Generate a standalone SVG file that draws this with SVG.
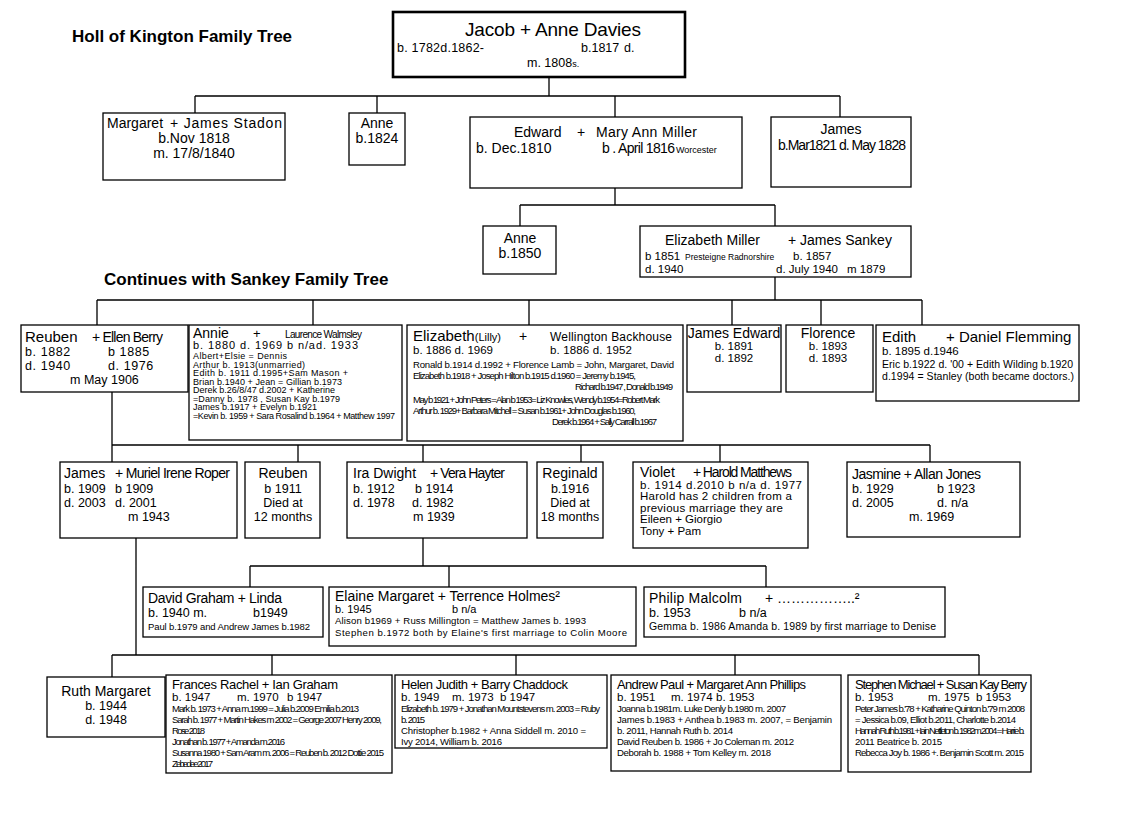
<svg xmlns="http://www.w3.org/2000/svg" width="1141" height="831" viewBox="0 0 1141 831">
<style>
text{font-family:"Liberation Sans",Arial,sans-serif;fill:#000}
.b{fill:#fff;stroke:#000;stroke-width:1.3}
.c{fill:none;stroke:#000;stroke-width:1.3}
.h{font-weight:bold;font-size:17px}
.n{font-size:14px}
.t{font-size:13px}
.d{font-size:12.5px}
.e{font-size:11.5px}
.s{font-size:9.6px}
.a{font-size:9px}
.m{text-anchor:middle}
</style>
<rect width="1141" height="831" fill="#fff"/>
<text class="h" x="72" y="42">Holl of Kington Family Tree</text>
<text class="h" x="104" y="285">Continues with Sankey Family Tree</text>
<g id="connectors" class="c">
<path d="M549,77V96M195,96H840M195,96V113M377,96V113M615,96V117M840,96V117"/>
<path d="M615,188V205M520,205H775M520,205V226M775,205V226"/>
<path d="M775,277V300M97,300H922M97,300V325M313,300V325M529,300V325M732,300V325M821,300V325M922,300V325"/>
<path d="M112,392V445M112,445H930M112,445V462M298,445V462M423,445V462M581,445V462M720,445V462M930,445V462"/>
<path d="M136,538V655M423,538V566M250,566H766M250,566V587M449,566V587M766,566V587"/>
<path d="M112,655H979M112,655V677M272,655V675M516,655V675M735,655V675M979,655V675"/>
</g>
<g id="jacob">
<rect x="393" y="12" width="292" height="65" fill="#fff" stroke="#000" stroke-width="2.6"/>
<text x="465" y="36" font-size="19" textLength="176">Jacob + Anne Davies</text>
<text class="d" x="397" y="52" textLength="87">b. 1782d.1862-</text>
<text class="d" x="581" y="52">b.1817</text><text class="d" x="624" y="52">d.</text>
<text class="d" x="527" y="67">m. 1808<tspan font-size="9">s.</tspan></text>
</g>
<g id="margaret">
<rect class="b" x="103" y="113" width="182" height="67"/>
<text class="n" x="107" y="128">Margaret</text><text class="n" x="170" y="128" textLength="112">+ James Stadon</text>
<text class="n m" x="194" y="143">b.Nov 1818</text>
<text class="n m" x="194" y="158">m. 17/8/1840</text>
</g>
<g id="anne1">
<rect class="b" x="349" y="113" width="56" height="52"/>
<text class="n m" x="377" y="128">Anne</text>
<text class="n m" x="377" y="143">b.1824</text>
</g>
<g id="edward">
<rect class="b" x="470" y="117" width="272" height="71"/>
<text class="n" x="514" y="137">Edward</text><text class="n" x="577" y="137">+</text><text class="n" x="596" y="137" textLength="101">Mary Ann Miller</text>
<text class="n" x="476" y="153">b. Dec.1810</text>
<text class="n" x="602" y="153" textLength="73">b . April 1816</text><text x="676" y="153" font-size="9">Worcester</text>
</g>
<g id="james1">
<rect class="b" x="771" y="117" width="140" height="70"/>
<text class="n m" x="841" y="134">James</text>
<text class="n" x="778" y="150" textLength="128">b.Mar1821  d. May 1828</text>
</g>
<g id="anne2">
<rect class="b" x="483" y="226" width="73" height="48"/>
<text class="n m" x="520" y="243">Anne</text>
<text class="n m" x="520" y="258">b.1850</text>
</g>
<g id="elizabethmiller">
<rect class="b" x="640" y="226" width="271" height="51"/>
<text class="n" x="665" y="245">Elizabeth Miller</text><text class="n" x="788" y="245">+ James Sankey</text>
<text class="e" x="645" y="260">b 1851</text><text x="685" y="260" font-size="8.5">Presteigne Radnorshire</text><text class="e" x="793" y="260">b. 1857</text>
<text class="e" x="645" y="273">d. 1940</text><text class="e" x="776" y="273">d. July 1940</text><text class="e" x="847" y="273">m 1879</text>
</g>
<g id="reuben1">
<rect class="b" x="21" y="325" width="167" height="67"/>
<text x="25" y="342" font-size="15">Reuben</text><text x="92" y="342" font-size="14" textLength="71">+ Ellen Berry</text>
<text class="d" x="25" y="356" letter-spacing="0.6">b. 1882</text><text class="d" x="108" y="356" letter-spacing="0.6">b 1885</text>
<text class="d" x="25" y="370" letter-spacing="0.6">d. 1940</text><text class="d" x="108" y="370" letter-spacing="0.6">d. 1976</text>
<text class="d" x="70" y="384">m May 1906</text>
</g>
<g id="annie">
<rect class="b" x="189" y="325" width="213" height="115"/>
<text x="193" y="338" font-size="14">Annie</text><text x="253" y="338" font-size="13">+</text><text x="285" y="338" font-size="10" textLength="77">Laurence Walmsley</text>
<text x="193" y="349" font-size="11" textLength="165">b. 1880 d. 1969   b n/ad. 1933</text>
<text class="a" x="193" y="359" textLength="94">Albert+Elsie = Dennis</text>
<text class="a" x="193" y="367.5" textLength="112">Arthur b. 1913(unmarried)</text>
<text class="a" x="193" y="376" textLength="155">Edith b. 1911 d.1995+Sam Mason +</text>
<text class="a" x="193" y="384.5" textLength="149">Brian b.1940 + Jean = Gillian b.1973</text>
<text class="a" x="193" y="393" textLength="142">Derek b.26/8/47 d.2002 + Katherine</text>
<text class="a" x="193" y="401.5" textLength="147">=Danny b. 1978 , Susan Kay b.1979</text>
<text class="a" x="193" y="410" textLength="124">James b.1917 + Evelyn b.1921</text>
<text class="a" x="193" y="418.5" textLength="202">=Kevin b. 1959 + Sara Rosalind b.1964 + Matthew  1997</text>
</g>
<g id="lilly">
<rect class="b" x="407" y="325" width="276" height="116"/>
<text x="413" y="341" font-size="15">Elizabeth<tspan font-size="11">(Lilly)</tspan></text><text x="519" y="341" font-size="14">+</text><text x="550" y="341" font-size="12" textLength="122">Wellington Backhouse</text>
<text class="e" x="413" y="354" textLength="80">b. 1886 d. 1969</text><text class="e" x="550" y="354" textLength="82">b. 1886 d. 1952</text>
<text class="s" x="413" y="368" textLength="261">Ronald b.1914 d.1992 + Florence Lamb = John, Margaret, David</text>
<text class="s" x="413" y="379" textLength="223">Elizabeth b.1918 + Joseph Hilton b.1915 d.1960 = Jeremy b.1945,</text>
<text class="s" x="575" y="390" textLength="98">Richard b.1947 , Donald b.1949</text>
<text class="s" x="413" y="403" textLength="247">May b 1921 + John Peters = Alan b 1953= Liz Knowles, Wendy b.1954=Robert Mark</text>
<text class="s" x="413" y="414" textLength="223">Arthur b. 1929+ Barbara Mitchell = Susan b.1961+ John Douglas b.1960,</text>
<text class="s" x="552" y="425" textLength="105">Derek b.1964 + Sally Carrall b.1967</text>
</g>
<g id="jamesedward">
<rect class="b" x="687" y="325" width="94" height="67"/>
<text class="n m" x="734" y="338">James Edward</text>
<text class="e m" x="734" y="350">b. 1891</text>
<text class="e m" x="734" y="362">d. 1892</text>
</g>
<g id="florence">
<rect class="b" x="786" y="325" width="87" height="67"/>
<text class="n m" x="828" y="338">Florence</text>
<text class="e m" x="828" y="350">b. 1893</text>
<text class="e m" x="828" y="362">d. 1893</text>
</g>
<g id="edith">
<rect class="b" x="876" y="325" width="203" height="76"/>
<text x="882" y="342" font-size="15">Edith</text><text x="946" y="342" font-size="15">+ Daniel Flemming</text>
<text class="e" x="882" y="355">b. 1895 d.1946</text>
<text x="882" y="368" font-size="10.5" textLength="191">Eric b.1922 d. '00 + Edith Wilding b.1920</text>
<text x="882" y="380" font-size="10.5" textLength="192">d.1994 = Stanley (both became doctors.)</text>
</g>
<g id="james2">
<rect class="b" x="60" y="462" width="177" height="76"/>
<text class="n" x="64" y="478">James</text><text class="n" x="115" y="478" textLength="115">+ Muriel Irene Roper</text>
<text class="d" x="64" y="493">b. 1909</text><text class="d" x="115" y="493">b 1909</text>
<text class="d" x="64" y="507">d. 2003</text><text class="d" x="115" y="507">d. 2001</text>
<text class="d" x="128" y="521">m 1943</text>
</g>
<g id="reuben2">
<rect class="b" x="245" y="462" width="75" height="76"/>
<text class="n m" x="283" y="478">Reuben</text>
<text class="d m" x="283" y="493">b 1911</text>
<text class="d m" x="283" y="507">Died at</text>
<text class="d m" x="283" y="521">12 months</text>
</g>
<g id="ira">
<rect class="b" x="347" y="462" width="180" height="76"/>
<text class="n" x="353" y="478">Ira Dwight</text><text class="n" x="430" y="478" textLength="75">+ Vera Hayter</text>
<text class="d" x="353" y="493">b. 1912</text><text class="d" x="415" y="493">b 1914</text>
<text class="d" x="353" y="507">d. 1978</text><text class="d" x="412" y="507">d. 1982</text>
<text class="d" x="413" y="521">m 1939</text>
</g>
<g id="reginald">
<rect class="b" x="537" y="462" width="66" height="76"/>
<text class="n m" x="570" y="478">Reginald</text>
<text class="d m" x="570" y="493">b.1916</text>
<text class="d m" x="570" y="507">Died at</text>
<text class="d m" x="570" y="521">18 months</text>
</g>
<g id="violet">
<rect class="b" x="633" y="462" width="175" height="86"/>
<text class="n" x="640" y="477">Violet</text><text class="n" x="693" y="477" textLength="99">+ Harold Matthews</text>
<text class="e" x="640" y="488.5" textLength="162">b. 1914 d.2010   b n/a d. 1977</text>
<text class="e" x="640" y="500" textLength="152">Harold has 2 children from a</text>
<text class="e" x="640" y="511.5" textLength="143">previous marriage they are</text>
<text class="e" x="640" y="523">Eileen + Giorgio</text>
<text class="e" x="640" y="534.5">Tony + Pam</text>
</g>
<g id="jasmine">
<rect class="b" x="847" y="462" width="173" height="75"/>
<text class="n" x="852" y="479" textLength="129">Jasmine + Allan Jones</text>
<text class="d" x="852" y="493">b. 1929</text><text class="d" x="937" y="493">b 1923</text>
<text class="d" x="852" y="507">d. 2005</text><text class="d" x="937" y="507">d. n/a</text>
<text class="d" x="909" y="521">m. 1969</text>
</g>
<g id="david">
<rect class="b" x="143" y="587" width="180" height="50"/>
<text class="n" x="148" y="603" textLength="134">David Graham + Linda</text>
<text class="d" x="148" y="617">b. 1940  m.</text><text class="d" x="253" y="617">b1949</text>
<text x="148" y="630" font-size="9.5" textLength="162">Paul b.1979 and Andrew James b.1982</text>
</g>
<g id="elaine">
<rect class="b" x="329" y="587" width="307" height="59"/>
<text class="n" x="335" y="601" textLength="225">Elaine Margaret + Terrence Holmes²</text>
<text x="335" y="613" font-size="11">b. 1945</text><text x="452" y="613" font-size="11">b n/a</text>
<text class="s" x="335" y="624" textLength="251">Alison b1969 + Russ Millington = Matthew James b. 1993</text>
<text class="s" x="335" y="636" textLength="292">Stephen b.1972 both by Elaine's first marriage to Colin Moore</text>
</g>
<g id="philip">
<rect class="b" x="644" y="587" width="301" height="50"/>
<text class="n" x="649" y="603" textLength="93">Philip Malcolm</text><text class="n" x="765" y="603">+ ……………..²</text>
<text class="d" x="649" y="617">b. 1953</text><text class="d" x="739" y="617">b n/a</text>
<text x="649" y="630" font-size="10.5" textLength="287">Gemma b. 1986 Amanda b. 1989 by first marriage to Denise</text>
</g>
<g id="ruth">
<rect class="b" x="47" y="677" width="118" height="60"/>
<text class="n m" x="106" y="696">Ruth Margaret</text>
<text class="d m" x="106" y="710">b. 1944</text>
<text class="d m" x="106" y="724">d. 1948</text>
</g>
<g id="frances">
<rect class="b" x="166" y="675" width="226" height="98"/>
<text class="t" x="172" y="689" textLength="166">Frances Rachel +  Ian Graham</text>
<text class="e" x="172" y="700.5">b. 1947</text><text class="e" x="237" y="700.5">m. 1970</text><text class="e" x="287" y="700.5">b 1947</text>
<text class="s" x="172" y="711.5" textLength="187">Mark b. 1973 + Anna m.1999 = Julia b.2009 Emilia b.2013</text>
<text class="s" x="172" y="722.5" textLength="210">Sarah b. 1977 + Martin Hakes m 2002 = George 2007  Henry 2009,</text>
<text class="s" x="172" y="733.5" textLength="33">Rose 2018</text>
<text class="s" x="172" y="744.5" textLength="113">Jonathan b. 1977 + Amanda m.2016</text>
<text class="s" x="172" y="755.5" textLength="212">Susanna 1980 + Sam Aram m. 2006 = Reuben b. 2012 Dottie 2015</text>
<text class="s" x="172" y="766.5" textLength="41">Zebedee 2017</text>
</g>
<g id="helen">
<rect class="b" x="395" y="675" width="212" height="73"/>
<text class="t" x="401" y="689" textLength="167">Helen Judith +  Barry Chaddock</text>
<text class="e" x="401" y="700.5">b. 1949</text><text class="e" x="452" y="700.5">m. 1973</text><text class="e" x="500" y="700.5">b 1947</text>
<text class="s" x="401" y="711.5" textLength="199">Elizabeth b. 1979 + Jonathan Mountstevens m. 2003 = Ruby</text>
<text class="s" x="401" y="722.5" textLength="24">b. 2015</text>
<text class="s" x="401" y="734" textLength="185">Christopher b.1982 + Anna Siddell m. 2010 =</text>
<text class="s" x="401" y="745" textLength="101">Ivy 2014, William b. 2016</text>
</g>
<g id="andrew">
<rect class="b" x="611" y="675" width="230" height="96"/>
<text class="t" x="617" y="689" textLength="189">Andrew Paul + Margaret Ann Phillips</text>
<text class="e" x="617" y="700.5">b. 1951</text><text class="e" x="671" y="700.5">m. 1974</text><text class="e" x="716" y="700.5">b. 1953</text>
<text class="s" x="617" y="712" textLength="169">Joanna b.1981m. Luke Denly b.1980 m. 2007</text>
<text class="s" x="617" y="723" textLength="215">James b.1983 + Anthea b.1983 m. 2007, = Benjamin</text>
<text class="s" x="617" y="734" textLength="116">b. 2011, Hannah Ruth b. 2014</text>
<text class="s" x="617" y="745" textLength="177">David Reuben b. 1986 + Jo Coleman m. 2012</text>
<text class="s" x="617" y="756" textLength="154">Deborah b. 1988 + Tom Kelley m. 2018</text>
</g>
<g id="stephen">
<rect class="b" x="848" y="675" width="183" height="97"/>
<text class="t" x="855" y="689" textLength="172">Stephen Michael + Susan Kay Berry</text>
<text class="e" x="855" y="700.5">b. 1953</text><text class="e" x="928" y="700.5">m. 1975</text><text class="e" x="976" y="700.5">b 1953</text>
<text class="s" x="855" y="712" textLength="170">Peter James b.'78 + Katharine Quinton b.'79 m 2008</text>
<text class="s" x="855" y="723" textLength="161">= Jessica b.09, Elliot b.2011, Charlotte b.2014</text>
<text class="s" x="855" y="734" textLength="170">Hannah Ruth b.1981 + Iain Nettleton b. 1982m.2004 = Harrie b.</text>
<text class="s" x="855" y="745" textLength="87">2011 Beatrice b. 2015</text>
<text class="s" x="855" y="756" textLength="169">Rebecca Joy b. 1986 +. Benjamin Scott m. 2015</text>
</g>
</svg>
